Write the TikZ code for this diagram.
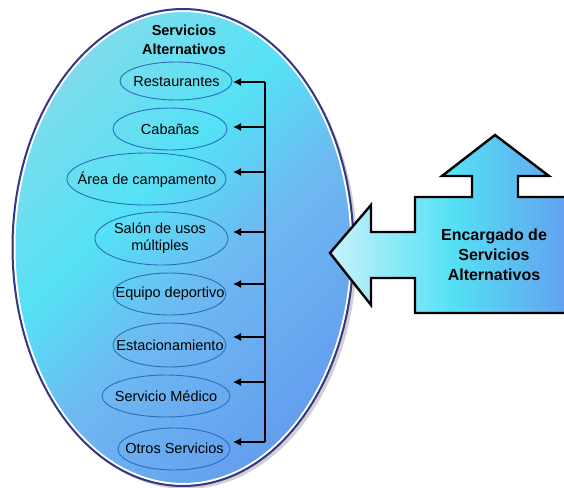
\documentclass[tikz,border=0pt]{standalone}
\usepackage{fontspec}
\setmainfont{Liberation Sans}
\usetikzlibrary{shapes.geometric,arrows.meta}
\definecolor{navy}{RGB}{55,55,135}
\definecolor{cyanA}{RGB}{125,220,236}
\definecolor{cyanB}{RGB}{85,225,245}
\definecolor{blueM}{RGB}{110,185,242}
\definecolor{blueC}{RGB}{100,158,238}
\definecolor{tipL}{RGB}{200,242,250}
\definecolor{ellline}{RGB}{40,110,190}
\pgfdeclareverticalshading{ellshade}{100bp}{color(0bp)=(blueC); color(25bp)=(blueC); color(45bp)=(blueM); color(58bp)=(cyanB); color(75bp)=(cyanA); color(100bp)=(cyanA)}
\tikzset{
  item/.style={draw=ellline, line width=0.9pt, ellipse, inner sep=0pt},
  itemtext/.style={font=\fontsize{14.5}{17}\selectfont, align=center, inner sep=0pt},
  feed/.style={line width=1.4pt, -{Latex[length=8pt,width=8pt]}},
  bus/.style={line width=1.4pt},
  heading/.style={font=\bfseries\fontsize{14.5}{19}\selectfont, align=center, inner sep=0pt},
  bigtext/.style={font=\bfseries\fontsize{16}{20}\selectfont, align=center, inner sep=0pt},
}
\begin{document}
\begin{tikzpicture}[x=1pt,y=-1pt]
\useasboundingbox (0,0) rectangle (564,487);
\clip (0,0) rectangle (564,487);
% big ellipse: shadow, fill, borders
\fill[gray!60, opacity=0.6] (186,251) ellipse [x radius=171, y radius=238];
\shade[shading=ellshade, shading angle=45]
  (183,247.5) ellipse [x radius=170, y radius=238];
\draw[white, line width=2pt] (183,247.5) ellipse [x radius=168.5, y radius=236.5];
\draw[navy, line width=2pt] (183,247.5) ellipse [x radius=170.5, y radius=238.5];
% title
\node[heading] (title) at (184,40) {Servicios\\Alternativos};
% items
\node[item, minimum width=112pt, minimum height=38pt] (e1) at (176,81) {};
\node[item, minimum width=114pt, minimum height=42pt] (e2) at (170,129) {};
\node[item, minimum width=159pt, minimum height=52pt] (e3) at (146.5,179) {};
\node[item, minimum width=133pt, minimum height=53pt] (e4) at (161.5,238.5) {};
\node[item, minimum width=113pt, minimum height=42pt] (e5) at (169.5,294) {};
\node[item, minimum width=113pt, minimum height=44pt] (e6) at (169.5,345) {};
\node[item, minimum width=128pt, minimum height=42pt] (e7) at (166,396) {};
\node[item, minimum width=112pt, minimum height=42pt] (e8) at (174,449) {};
\node[itemtext] (t1) at (176.5,82) {Restaurantes};
\node[itemtext] (t2) at (170,129) {Cabañas};
\node[itemtext] (t3) at (147,180) {Área de campamento};
\node[itemtext] (t4) at (160,238.5) {Salón de usos\\múltiples};
\node[itemtext] (t5) at (170,294) {Equipo deportivo};
\node[itemtext] (t6) at (170,345) {Estacionamiento};
\node[itemtext] (t7) at (166,396) {Servicio Médico};
\node[itemtext] (t8) at (174.5,448) {Otros Servicios};
% bus and arrows
\foreach \i/\y in {1/82,2/127,3/172,4/232,5/284,6/337,7/382,8/442}{
  \coordinate (b\i) at (265,\y);
  \coordinate (a\i) at (233,\y);
}
\draw[bus] (b1) -- (b8);
\foreach \i in {1,...,8}{ \draw[feed] (b\i) -- (a\i); }
% manager shape
\shade[left color=tipL, right color=blueC, middle color=cyanB]
  (330,253) -- (371,205) -- (371,232) -- (415,232) -- (415,197) -- (472,197)
  -- (472,176) -- (442,176) -- (495,135) -- (549,176) -- (518,176) -- (518,197)
  -- (572,197) -- (572,313) -- (415,313) -- (415,278) -- (371,278) -- (371,305) -- cycle;
\draw[black, line width=2.4pt, line join=miter]
  (330,253) -- (371,205) -- (371,232) -- (415,232) -- (415,197) -- (472,197)
  -- (472,176) -- (442,176) -- (495,135) -- (549,176) -- (518,176) -- (518,197)
  -- (572,197) -- (572,313) -- (415,313) -- (415,278) -- (371,278) -- (371,305) -- cycle;
\node[bigtext] (enc) at (494,255) {Encargado de\\Servicios\\Alternativos};
\end{tikzpicture}
\end{document}
